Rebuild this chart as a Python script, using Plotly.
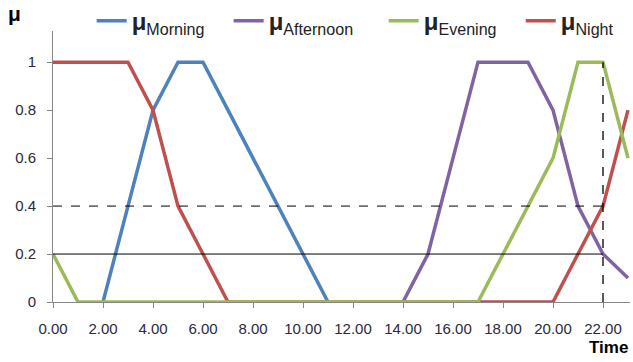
import plotly.graph_objects as go

hours = list(range(24))
tick_vals = list(range(0, 24, 2))
tick_text = [f"{v:.2f}" for v in tick_vals]

morning = [None, None, 0, 0.4, 0.8, 1, 1, 0.8, 0.6, 0.4, 0.2, 0,
           None, None, None, None, None, None, None, None, None, None, None, None]
afternoon = [None] * 14 + [0, 0.2, 0.6, 1, 1, 1, 0.8, 0.4, 0.2, 0.1]
evening = [0.2, 0, 0, 0, 0, 0, 0, 0, 0, 0, 0, 0, 0, 0, 0, 0, 0, 0,
           0.2, 0.4, 0.6, 1, 1, 0.6]
night = [1, 1, 1, 1, 0.8, 0.4, 0.2, 0, 0, 0, 0, 0, 0, 0, 0, 0, 0, 0,
         0, 0, 0, 0.2, 0.4, 0.8]

cut_time = 22
level_dashed = 0.4
level_solid = 0.2
level_top = 1

series = [
    ("Morning", morning, "#4F81BD", 1, 3),
    ("Afternoon", afternoon, "#8064A2", 2, 4),
    ("Night", night, "#C0504D", 4, 0),
    ("Evening", evening, "#9BBB59", 3, 3),
]

fig = go.Figure()
for name, vals, color, rank, pad in series:
    fig.add_trace(go.Scatter(
        x=hours, y=vals, mode="lines", connectgaps=False,
        line=dict(color=color, width=3.5),
        name=f"<span style='font-size:24px'><b>μ</b></span><sub>{name}</sub>" + "&nbsp;" * pad,
        legendrank=rank,
    ))

fig.add_trace(go.Scatter(x=[0, cut_time], y=[level_dashed, level_dashed], mode="lines",
                         line=dict(color="black", width=1, dash="dash"), showlegend=False))
fig.add_trace(go.Scatter(x=[0, cut_time], y=[level_solid, level_solid], mode="lines",
                         line=dict(color="black", width=1), showlegend=False))
fig.add_trace(go.Scatter(x=[cut_time, cut_time], y=[0, level_top], mode="lines",
                         line=dict(color="black", width=1.3, dash="dash"), showlegend=False))

fig.update_layout(
    width=633, height=362,
    margin=dict(l=53, r=3, t=31, b=60, autoexpand=False),
    paper_bgcolor="white", plot_bgcolor="white",
    font=dict(family="Liberation Sans, Arial, sans-serif", size=15, color="#2a2a3a"),
    legend=dict(orientation="h", x=0.067, y=1.117, xanchor="left", yanchor="top",
                font=dict(size=23, color="#222"), bgcolor="rgba(0,0,0,0)", itemwidth=30,
                tracegroupgap=0),
    xaxis=dict(range=[0, 23.08], tickvals=tick_vals, ticktext=tick_text,
               showgrid=False, zeroline=False, showline=True, linecolor="#868686",
               linewidth=1, ticks="outside", ticklen=5, tickcolor="#868686",
               tickfont=dict(size=15), ticklabelstandoff=8),
    yaxis=dict(range=[0, 1.13], tickvals=[0, 0.2, 0.4, 0.6, 0.8, 1],
               ticktext=["0", "0.2", "0.4", "0.6", "0.8", "1"],
               showgrid=False, zeroline=False, showline=True, linecolor="#868686",
               linewidth=1, ticks="outside", ticklen=5, tickcolor="#868686",
               tickfont=dict(size=15), ticklabelstandoff=8),
    annotations=[
        dict(text="<b>μ</b>", x=-0.066, y=1.065, xref="paper", yref="paper", showarrow=False,
             font=dict(size=21, color="black"), xanchor="center", yanchor="middle"),
        dict(text="<b>Time</b>", x=1, y=-0.167, xref="paper", yref="paper", showarrow=False,
             font=dict(size=17, color="black"), xanchor="right", yanchor="middle"),
    ],
)

fig.write_html("out.html", config={"displayModeBar": False},
               post_script="document.body.style.margin='0';document.body.style.overflow='hidden';")
